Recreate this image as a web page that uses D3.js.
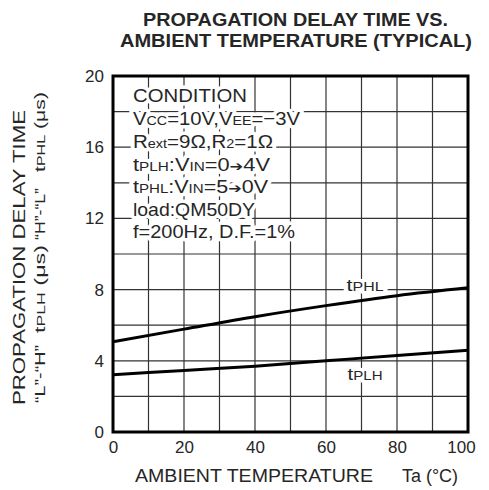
<!DOCTYPE html>
<html><head><meta charset="utf-8">
<script src="https://cdn.jsdelivr.net/npm/d3@7"></script>
<style>
body{margin:0;background:#fff;}
text{font-family:"Liberation Sans",Arial,sans-serif;fill:#262626;}
</style></head>
<body>
<svg id="c" width="489" height="490"></svg>
<script>
const temps = [0, 20, 40, 60, 80, 100];
const tPHL = [5.07, 5.78, 6.48, 7.1, 7.66, 8.1];
const tPLH = [3.22, 3.46, 3.7, 4.0, 4.3, 4.59];
const xTicks = [0, 20, 40, 60, 80, 100];
const yTicks = [0, 4, 8, 12, 16, 20];
const xGrid = [10, 20, 30, 40, 50, 60, 70, 80, 90];
const yGrid = [2, 4, 6, 8, 10, 12, 14, 16, 18];

const svg = d3.select("#c");
const L = 113, R = 468, T = 76, B = 432;
const x = d3.scaleLinear().domain([0, 100]).range([L, R]);
const y = d3.scaleLinear().domain([0, 20]).range([B, T]);
const FF = "Liberation Sans, Arial, sans-serif";

// grid
const g = svg.append("g");
g.selectAll(".vg").data(xGrid).join("line")
  .attr("x1", d => x(d)).attr("x2", d => x(d)).attr("y1", T).attr("y2", B)
  .attr("stroke", "#333").attr("stroke-width", 1.2);
g.selectAll(".hg").data(yGrid).join("line")
  .attr("x1", L).attr("x2", R).attr("y1", d => y(d)).attr("y2", d => y(d))
  .attr("stroke", "#333").attr("stroke-width", 1.2);

// axes
const fs = 17;
const ya = svg.append("g").attr("transform", `translate(${L},0)`)
  .call(d3.axisLeft(y).tickValues(yTicks).tickSize(0).tickPadding(9).tickFormat(d3.format("d")));
ya.select(".domain").remove();
ya.selectAll("text").attr("font-size", fs).attr("font-family", FF).attr("fill", "#262626");
const xa = svg.append("g").attr("transform", `translate(0,${B})`)
  .call(d3.axisBottom(x).tickValues(xTicks).tickSize(0).tickPadding(9).tickFormat(d3.format("d")));
xa.select(".domain").remove();
xa.selectAll("text").attr("font-size", fs).attr("font-family", FF).attr("fill", "#262626");
xa.selectAll("text").filter(d => d === 100).attr("dx", -7);

// rich text helper: parts = [text, kind] kind 1 = normal, 0 = small, 2 = arrow
function rich(parent, parts, attrs, big, small, withHalo){
  const layers = withHalo ? [true, false] : [false];
  layers.forEach(isHalo => {
    const t = parent.append("text");
    Object.entries(attrs).forEach(([k, v]) => t.attr(k, v));
    t.attr("font-size", big).attr("lengthAdjust", "spacingAndGlyphs");
    if (isHalo) t.style("fill", "#fff").attr("stroke", "#fff").attr("stroke-width", 7).attr("stroke-linejoin", "round");
    parts.forEach(p => {
      const ts = t.append("tspan").text(p[0]);
      if (p[1] === 0) ts.attr("font-size", small);
      if (p[1] === 2) ts.attr("font-size", big * 0.75).attr("font-family", "DejaVu Sans");
    });
  });
}

// condition block
const cond = [
  [["CONDITION", 1]],
  [["V",1],["CC",0],["=10V,V",1],["EE",0],["=\u22123V",1]],
  [["R",1],["ext",0],["=9\u03A9,R",1],["2",0],["=1\u03A9",1]],
  [["t",1],["PLH",0],[":V",1],["IN",0],["=0",1],["\u2794",2],["4V",1]],
  [["t",1],["PHL",0],[":V",1],["IN",0],["=5",1],["\u2794",2],["0V",1]],
  [["load:QM50DY",1]],
  [["f=200Hz, D.F.=1%",1]]
];
const condW = [114, 167, 140, 137, 135, 122, 162];
const condY = [101.7, 125, 147.7, 170.7, 192.7, 215.7, 237.7];
cond.forEach((parts, i) => {
  rich(svg, parts, {x: 133, y: condY[i], textLength: condW[i]}, 18.5, 13, true);
});

// curve labels
rich(svg, [["t",1],["PHL",0]], {x: x(71), y: 290.5, "text-anchor": "middle", textLength: 37}, 17, 12.5, true);
rich(svg, [["t",1],["PLH",0]], {x: x(71), y: 380, "text-anchor": "middle", textLength: 35}, 17, 12.5, true);

// curves
const line = d3.line().x((d, i) => x(temps[i])).y(d => y(d)).curve(d3.curveMonotoneX);
[tPHL, tPLH].forEach(s => {
  svg.append("path").attr("d", line(s)).attr("fill","none").attr("stroke","#000").attr("stroke-width",3);
});

// frame
svg.append("rect").attr("x", L).attr("y", T).attr("width", R - L).attr("height", B - T)
  .attr("fill","none").attr("stroke","#000").attr("stroke-width",3);

// title
svg.append("text").attr("x",143).attr("y",26).attr("font-size",18).attr("font-weight","bold")
  .attr("textLength",305).attr("lengthAdjust","spacingAndGlyphs").text("PROPAGATION DELAY TIME VS.");
svg.append("text").attr("x",120).attr("y",47).attr("font-size",18).attr("font-weight","bold")
  .attr("textLength",352).attr("lengthAdjust","spacingAndGlyphs").text("AMBIENT TEMPERATURE (TYPICAL)");

// x title
svg.append("text").attr("x",135).attr("y",482).attr("font-size",18)
  .attr("textLength",238).attr("lengthAdjust","spacingAndGlyphs").text("AMBIENT TEMPERATURE");
svg.append("text").attr("x",402).attr("y",482).attr("font-size",18)
  .attr("textLength",56).attr("lengthAdjust","spacingAndGlyphs").text("Ta (\u00B0C)");

// y title
svg.append("text").attr("transform","translate(25,405) rotate(-90)").attr("font-size",16.5)
  .attr("textLength",295).attr("lengthAdjust","spacingAndGlyphs").text("PROPAGATION DELAY TIME");
const y2 = [
  {parts:[["\u201CL\u201D-\u201CH\u201D",1]], y:403, w:58},
  {parts:[["t",1],["PLH",0],[" (\u03BCs)",1]], y:333, w:88},
  {parts:[["\u201CH\u201D-\u201CL\u201D",1]], y:240, w:52},
  {parts:[["t",1],["PHL",0],[" (\u03BCs)",1]], y:172, w:80}
];
y2.forEach(s => {
  rich(svg, s.parts, {transform: `translate(45,${s.y}) rotate(-90)`, textLength: s.w}, 14.5, 11, false);
});
</script>
</body></html>
